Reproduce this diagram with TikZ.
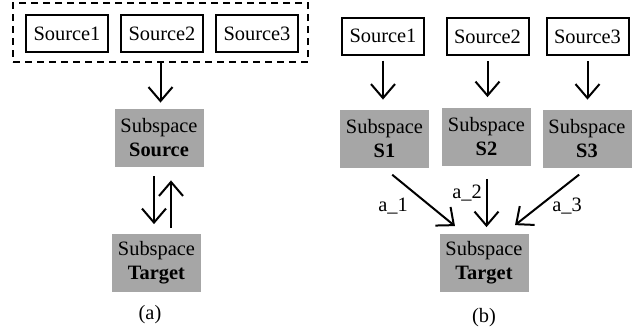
\documentclass[tikz,border=0pt]{standalone}
\usepackage{fontspec}
\setmainfont{Liberation Serif}
\usetikzlibrary{arrows.meta}
\definecolor{boxgray}{RGB}{166,166,166}

\begin{document}
\begin{tikzpicture}[x=0.5pt, y=-0.5pt, >={Straight Barb[length=7pt,width=12pt]},
    font=\fontsize{10.2}{12}\selectfont,
    srcbox/.style={draw, line width=1pt, minimum width=41pt, minimum height=18.5pt, inner sep=0pt},
    subbox/.style={fill=boxgray, minimum width=44.5pt, minimum height=29pt, inner sep=0pt, align=center},
    arr/.style={->, line width=1pt}]
    \useasboundingbox (0,0) rectangle (643,334);
    % (a) all sources pooled into one subspace
    \node[draw, dash pattern=on 3.5pt off 2.5pt, line width=1pt, minimum width=147.5pt, minimum height=29.5pt] (grp) at (160.5,32.5) {};
    \foreach \i/\x in {1/67,2/162,3/257}
        \node[srcbox] (a\i) at (\x,33.5) {Source\i};
    \node[subbox] (srcA) at (159,138) {Subspace\\\textbf{Source}};
    \node[subbox] (tgtA) at (156.5,262.5) {Subspace\\\textbf{Target}};
    \draw[arr, shorten >=3pt] (grp.south) -- (grp.south |- srcA.north);
    \draw[arr, shorten <=4.5pt, shorten >=4.5pt] ([xshift=-2.5pt]srcA.south) -- ([xshift=-2.5pt]srcA.south |- tgtA.north);
    \draw[arr, shorten <=2.5pt, shorten >=6.5pt] ([xshift=6pt]srcA.south |- tgtA.north) -- ([xshift=6pt]srcA.south);
    \node (capA) at (150,315) {(a)};
    % (b) one subspace per source, weighted into the target
    \foreach \i/\x/\y in {1/383/36,2/487.5/36.5,3/587.5/36.5}
        \node[srcbox] (b\i) at (\x,\y) {Source\i};
    \foreach \i/\x/\y in {1/384.5/139,2/486.5/136.5,3/587/139}
        \node[subbox] (s\i) at (\x,\y) {Subspace\\\textbf{S\i}};
    \node[subbox] (tgtB) at (484,262.5) {Subspace\\\textbf{Target}};
    \foreach \i in {1,2,3}
        \draw[arr, shorten <=2.5pt, shorten >=5pt] (b\i.south) -- (b\i.south |- s\i.north);
    \draw[arr, shorten <=5pt] (s1.south) -- ([xshift=-14.5pt,yshift=3.5pt]tgtB.north);
    \draw[arr, shorten <=6.5pt, shorten >=3pt] (s2.south) -- (s2.south |- tgtB.north);
    \draw[arr, shorten <=5pt] (s3.south) -- ([xshift=15.5pt,yshift=4pt]tgtB.north);
    \node (w1) at (393,206) {a\_1};
    \node (w2) at (467,193) {a\_2};
    \node (w3) at (567,206) {a\_3};
    \node (capB) at (484,318) {(b)};
\end{tikzpicture}
\end{document}
